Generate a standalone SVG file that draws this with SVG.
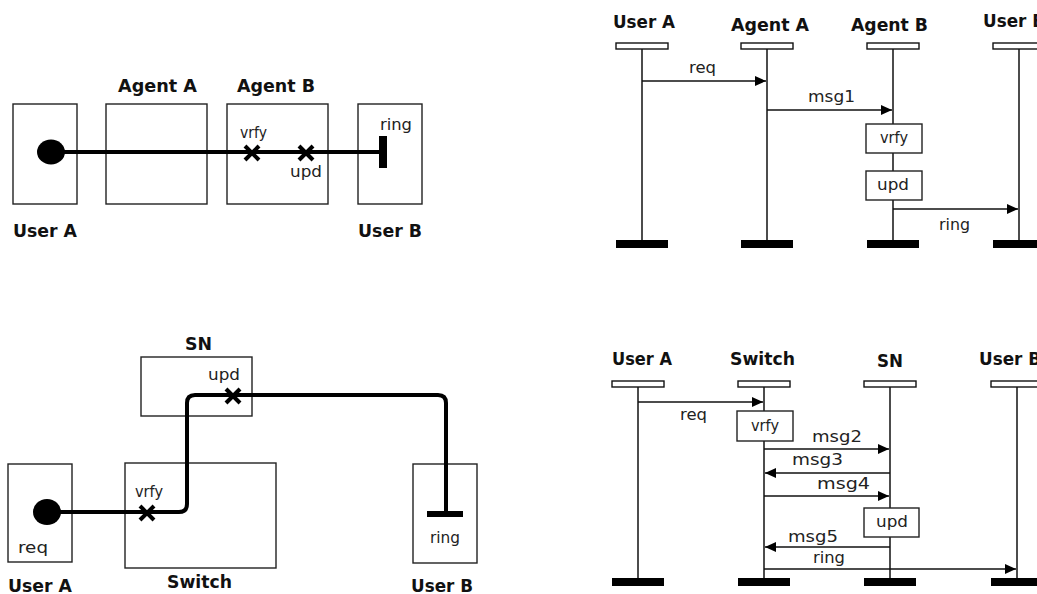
<svg xmlns="http://www.w3.org/2000/svg" width="1037" height="594" viewBox="0 0 1037 594">
<style>
.bg{fill:#ffffff}
.box{fill:#ffffff;stroke:#222;stroke-width:1.4}
.title{font-family:"DejaVu Sans","Liberation Sans",sans-serif;font-weight:bold;font-size:17px;fill:#111}
.lbl{font-family:"DejaVu Sans","Liberation Sans",sans-serif;font-size:15px;fill:#222}
.thick{fill:none;stroke:#000;stroke-width:4;stroke-linejoin:round}
.x{stroke:#000;stroke-width:4;stroke-linecap:butt}
.life{stroke:#111;stroke-width:1.5}
.head{fill:#fff;stroke:#111;stroke-width:1.4}
.foot{fill:#000}
.msg{stroke:#111;stroke-width:1.5;fill:none;marker-end:url(#ah)}
</style>
<defs>
<marker id="ah" markerWidth="12" markerHeight="10" refX="11" refY="5" orient="auto" markerUnits="userSpaceOnUse">
<path d="M0,0 L11,5 L0,10 z" fill="#000"/>
</marker>
<g id="xmark"><line class="x" x1="-7" y1="-7" x2="7" y2="7"/><line class="x" x1="-7" y1="7" x2="7" y2="-7"/></g>
</defs>
<rect class="bg" x="0" y="0" width="1037" height="594"/>

<!-- ===== Top-left: topology ===== -->
<g id="tl-userA"><rect class="box" x="13" y="104" width="64" height="100"/><text class="title" x="13" y="237" textLength="64" lengthAdjust="spacingAndGlyphs">User A</text></g>
<g id="tl-agentA"><rect class="box" x="106" y="104" width="101" height="100"/><text class="title" x="118" y="92" textLength="79" lengthAdjust="spacingAndGlyphs">Agent A</text></g>
<g id="tl-agentB"><rect class="box" x="227" y="104" width="101" height="100"/><text class="title" x="237" y="92" textLength="78" lengthAdjust="spacingAndGlyphs">Agent B</text></g>
<g id="tl-userB"><rect class="box" x="358" y="104" width="64" height="100"/><text class="title" x="358" y="237" textLength="64" lengthAdjust="spacingAndGlyphs">User B</text></g>
<g id="tl-connectors">
<line class="thick" x1="52" y1="152" x2="383" y2="152"/>
<ellipse cx="51" cy="152" rx="14" ry="12.5" fill="#000"/>
<use href="#xmark" x="252" y="153"/>
<use href="#xmark" x="306" y="153"/>
<rect x="379" y="136" width="8" height="32" fill="#000"/>
<text class="lbl" x="240" y="138" textLength="27" lengthAdjust="spacingAndGlyphs">vrfy</text>
<text class="lbl" x="290" y="177" textLength="32" lengthAdjust="spacingAndGlyphs">upd</text>
<text class="lbl" x="380" y="130" textLength="32" lengthAdjust="spacingAndGlyphs">ring</text>
</g>

<!-- ===== Top-right: sequence ===== -->
<g id="tr-userA"><text class="title" x="613" y="28" textLength="62" lengthAdjust="spacingAndGlyphs">User A</text><rect class="head" x="616" y="43" width="52" height="6"/><line class="life" x1="642" y1="49" x2="642" y2="240"/><rect class="foot" x="616" y="240" width="52" height="8"/></g>
<g id="tr-agentA"><text class="title" x="731" y="31" textLength="78" lengthAdjust="spacingAndGlyphs">Agent A</text><rect class="head" x="741" y="43" width="52" height="6"/><line class="life" x1="767" y1="49" x2="767" y2="240"/><rect class="foot" x="741" y="240" width="52" height="8"/></g>
<g id="tr-agentB"><text class="title" x="851" y="31" textLength="77" lengthAdjust="spacingAndGlyphs">Agent B</text><rect class="head" x="867" y="43" width="52" height="6"/><line class="life" x1="893" y1="49" x2="893" y2="240"/><rect class="foot" x="867" y="240" width="52" height="8"/></g>
<g id="tr-userB"><text class="title" x="983" y="27" textLength="62" lengthAdjust="spacingAndGlyphs">User B</text><rect class="head" x="993" y="43" width="52" height="6"/><line class="life" x1="1019" y1="49" x2="1019" y2="240"/><rect class="foot" x="993" y="240" width="52" height="8"/></g>
<g id="tr-vrfy"><rect class="box" x="866" y="124" width="56" height="29"/><text class="lbl" x="880" y="143" textLength="28" lengthAdjust="spacingAndGlyphs">vrfy</text></g>
<g id="tr-upd"><rect class="box" x="866" y="171" width="56" height="29"/><text class="lbl" x="877" y="190" textLength="32" lengthAdjust="spacingAndGlyphs">upd</text></g>
<g id="tr-connectors">
<line class="msg" x1="642" y1="81" x2="766" y2="81"/>
<text class="lbl" x="689" y="73" textLength="27" lengthAdjust="spacingAndGlyphs">req</text>
<line class="msg" x1="767" y1="110" x2="892" y2="110"/>
<text class="lbl" x="808" y="102" textLength="47" lengthAdjust="spacingAndGlyphs">msg1</text>
<line class="msg" x1="893" y1="209" x2="1018" y2="209"/>
<text class="lbl" x="939" y="230" textLength="31" lengthAdjust="spacingAndGlyphs">ring</text>
</g>

<!-- ===== Bottom-left: topology ===== -->
<g id="bl-sn"><rect class="box" x="141" y="357" width="111" height="59"/><text class="title" x="185" y="350" textLength="27" lengthAdjust="spacingAndGlyphs">SN</text></g>
<g id="bl-userA"><rect class="box" x="8" y="464" width="64" height="98"/><text class="title" x="8" y="592" textLength="64" lengthAdjust="spacingAndGlyphs">User A</text><text class="lbl" x="18" y="553" textLength="30" lengthAdjust="spacingAndGlyphs">req</text></g>
<g id="bl-switch"><rect class="box" x="125" y="463" width="151" height="105"/><text class="title" x="167" y="588" textLength="65" lengthAdjust="spacingAndGlyphs">Switch</text></g>
<g id="bl-userB"><rect class="box" x="413" y="464" width="64" height="99"/><text class="title" x="411" y="592" textLength="62" lengthAdjust="spacingAndGlyphs">User B</text></g>
<g id="bl-connectors">
<path class="thick" d="M47,512 H179 Q187,512 187,504 V403 Q187,395 195,395 H438 Q446,395 446,403 V512"/>
<ellipse cx="47" cy="512" rx="14" ry="13" fill="#000"/>
<use href="#xmark" x="147" y="513"/>
<use href="#xmark" x="233" y="396"/>
<rect x="427" y="511" width="36" height="6" fill="#000"/>
<text class="lbl" x="135" y="497" textLength="28" lengthAdjust="spacingAndGlyphs">vrfy</text>
<text class="lbl" x="208" y="380" textLength="32" lengthAdjust="spacingAndGlyphs">upd</text>
<text class="lbl" x="430" y="543" textLength="30" lengthAdjust="spacingAndGlyphs">ring</text>
</g>

<!-- ===== Bottom-right: sequence ===== -->
<g id="br-userA"><text class="title" x="612" y="365" textLength="60" lengthAdjust="spacingAndGlyphs">User A</text><rect class="head" x="612" y="381" width="52" height="6"/><line class="life" x1="638" y1="387" x2="638" y2="578"/><rect class="foot" x="612" y="578" width="52" height="8"/></g>
<g id="br-switch"><text class="title" x="730" y="365" textLength="65" lengthAdjust="spacingAndGlyphs">Switch</text><rect class="head" x="738" y="381" width="52" height="6"/><line class="life" x1="764" y1="387" x2="764" y2="578"/><rect class="foot" x="738" y="578" width="52" height="8"/></g>
<g id="br-sn"><text class="title" x="877" y="367" textLength="26" lengthAdjust="spacingAndGlyphs">SN</text><rect class="head" x="864" y="381" width="52" height="6"/><line class="life" x1="890" y1="387" x2="890" y2="578"/><rect class="foot" x="864" y="578" width="52" height="8"/></g>
<g id="br-userB"><text class="title" x="979" y="365" textLength="62" lengthAdjust="spacingAndGlyphs">User B</text><rect class="head" x="991" y="381" width="52" height="6"/><line class="life" x1="1017" y1="387" x2="1017" y2="578"/><rect class="foot" x="991" y="578" width="52" height="8"/></g>
<g id="br-vrfy"><rect class="box" x="737" y="411" width="56" height="30"/><text class="lbl" x="751" y="431" textLength="28" lengthAdjust="spacingAndGlyphs">vrfy</text></g>
<g id="br-upd"><rect class="box" x="864" y="508" width="55" height="29"/><text class="lbl" x="876" y="527" textLength="32" lengthAdjust="spacingAndGlyphs">upd</text></g>
<g id="br-connectors">
<line class="msg" x1="638" y1="402" x2="763" y2="402"/>
<text class="lbl" x="680" y="420" textLength="27" lengthAdjust="spacingAndGlyphs">req</text>
<line class="msg" x1="764" y1="449" x2="889" y2="449"/>
<text class="lbl" x="812" y="442" textLength="50" lengthAdjust="spacingAndGlyphs">msg2</text>
<line class="msg" x1="890" y1="473" x2="765" y2="473"/>
<text class="lbl" x="792" y="465" textLength="51" lengthAdjust="spacingAndGlyphs">msg3</text>
<line class="msg" x1="764" y1="496" x2="889" y2="496"/>
<text class="lbl" x="817" y="489" textLength="53" lengthAdjust="spacingAndGlyphs">msg4</text>
<line class="msg" x1="890" y1="547" x2="765" y2="547"/>
<text class="lbl" x="788" y="542" textLength="50" lengthAdjust="spacingAndGlyphs">msg5</text>
<line class="msg" x1="764" y1="569" x2="1016" y2="569"/>
<text class="lbl" x="813" y="563" textLength="32" lengthAdjust="spacingAndGlyphs">ring</text>
</g>
</svg>
